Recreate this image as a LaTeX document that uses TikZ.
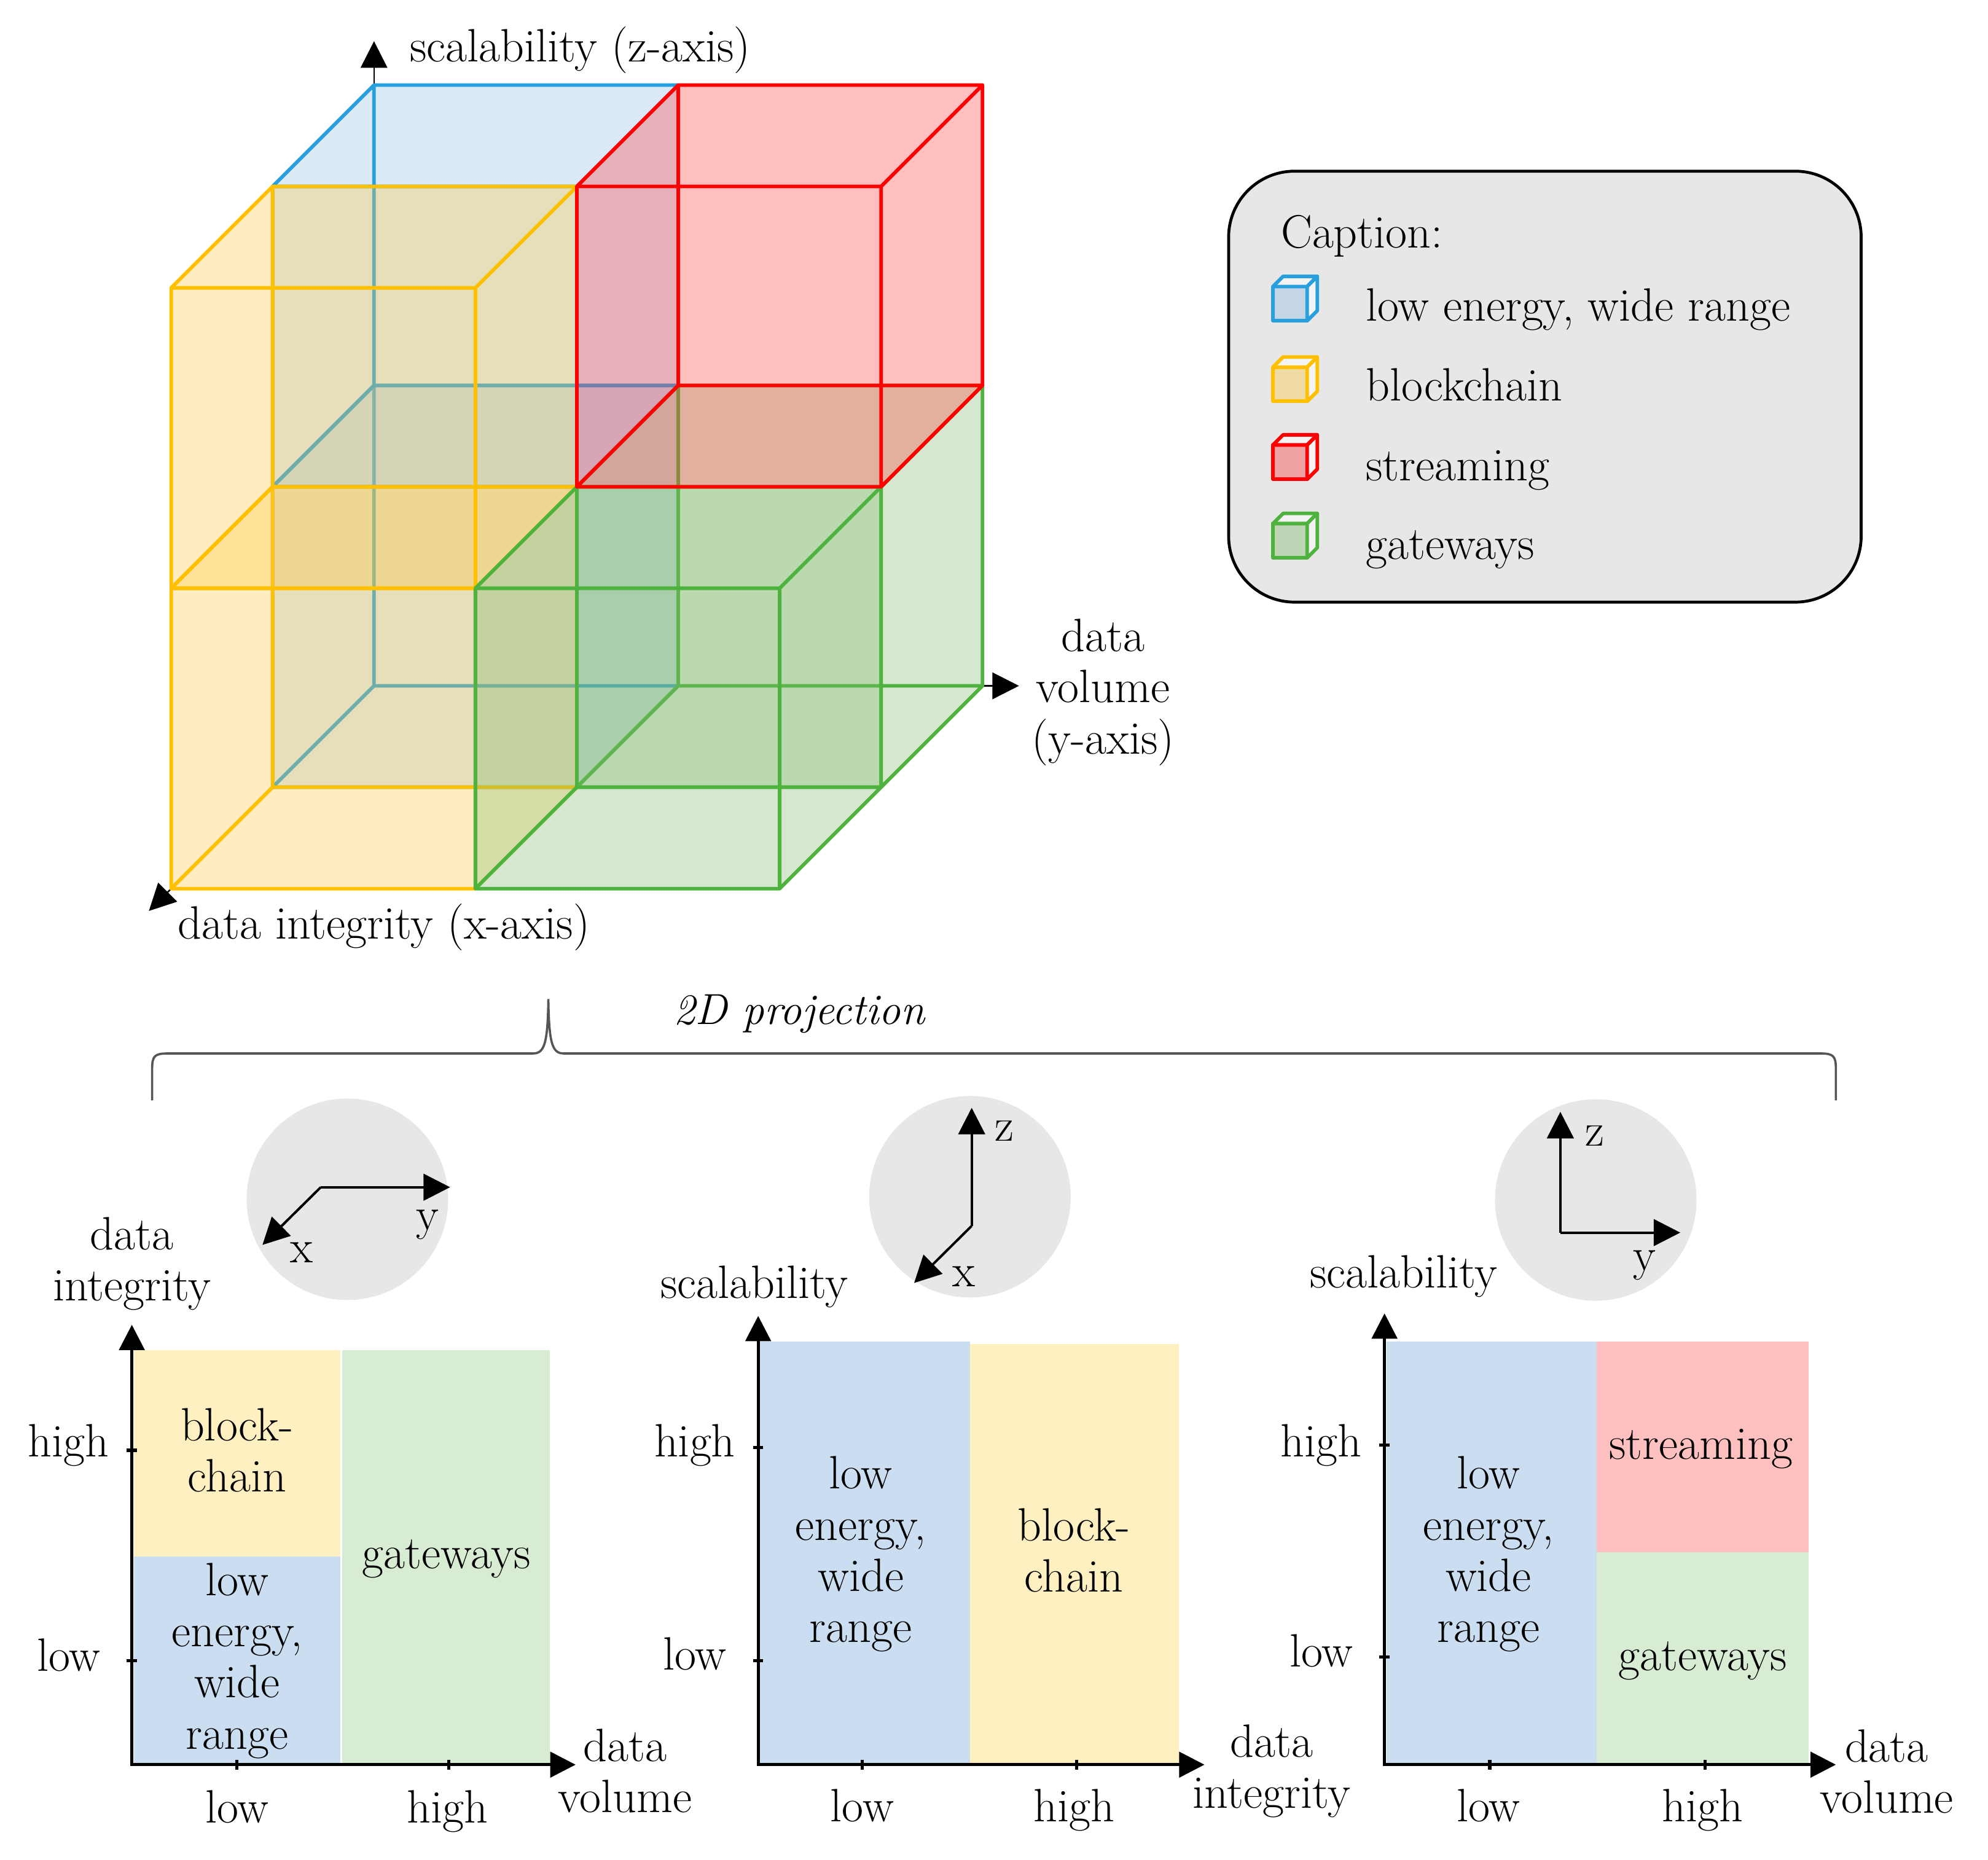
\documentclass[tikz,border=0pt]{standalone}
\usepackage{amsmath}
\usepackage{tikz}
\usetikzlibrary{arrows.meta}

\definecolor{lewredge}{RGB}{41,160,222}
\definecolor{lewrfill}{RGB}{144,189,228}
\definecolor{chainedge}{RGB}{255,192,0}
\definecolor{chainfill}{RGB}{255,201,66}
\definecolor{streamedge}{RGB}{255,0,0}
\definecolor{streamfill}{RGB}{255,60,60}
\definecolor{gateedge}{RGB}{78,178,62}
\definecolor{gatefill}{RGB}{129,186,108}
\definecolor{lewrflat}{RGB}{202,221,241}
\definecolor{chainflat}{RGB}{255,240,193}
\definecolor{streamflat}{RGB}{255,192,192}
\definecolor{gateflat}{RGB}{216,235,211}
\definecolor{capgray}{RGB}{231,231,231}
\definecolor{bracegray}{RGB}{85,85,85}

\tikzstyle{every node}=[inner sep=0pt,font=\fontsize{21}{23}\selectfont]
\tikzstyle{lbl}=[align=center]
\tikzstyle{axis3d}=[line width=0.7pt,-{Triangle[length=0.42cm,width=0.42cm]}]
\tikzstyle{axis2d}=[line width=1.4pt,{Triangle[length=0.4cm,width=0.4cm]}-{Triangle[length=0.4cm,width=0.4cm]}]
\tikzstyle{miniaxis}=[line width=1.1pt,-{Triangle[length=0.42cm,width=0.42cm]}]
\tikzstyle{tickmark}=[line width=1.4pt]
\tikzstyle{disc}=[circle,fill=capgray,minimum size=3.18cm]

% one half-size cell of the big cube, lower corner (#1,#2,#3)
\newcommand{\gridcube}[4]{%
  \fill[#4fill,fill opacity=0.33] (#1+.5,#2,#3)--(#1+.5,#2+.5,#3)--(#1,#2+.5,#3)--(#1,#2+.5,#3+.5)--(#1,#2,#3+.5)--(#1+.5,#2,#3+.5)--cycle;
  \draw[#4edge,line width=1.6pt,line join=round] (#1+.5,#2,#3)--(#1+.5,#2+.5,#3)--(#1+.5,#2+.5,#3+.5)--(#1+.5,#2,#3+.5)--cycle
    (#1,#2,#3)--(#1,#2+.5,#3)--(#1,#2+.5,#3+.5)--(#1,#2,#3+.5)--cycle
    (#1,#2,#3)--(#1+.5,#2,#3) (#1,#2+.5,#3)--(#1+.5,#2+.5,#3)
    (#1,#2+.5,#3+.5)--(#1+.5,#2+.5,#3+.5) (#1,#2,#3+.5)--(#1+.5,#2,#3+.5);
}
% small cube of the caption, front face lower left at (#1,#2)
\newcommand{\legendcube}[3]{%
  \filldraw[#3edge,fill=#3fill!40!capgray,line width=1.6pt,line join=round] (#1,#2) rectangle (#1+27,#2-27);
  \filldraw[#3edge,fill=white!50!capgray,line width=1.6pt,line join=round] (#1,#2-27)--(#1+8,#2-35)--(#1+35,#2-35)--(#1+27,#2-27)--cycle;
  \filldraw[#3edge,fill=white!50!capgray,line width=1.6pt,line join=round] (#1+27,#2)--(#1+35,#2-8)--(#1+35,#2-35)--(#1+27,#2-27)--cycle;
}

\begin{document}
\begin{tikzpicture}[x=0.02cm,y=-0.02cm]
\useasboundingbox (0,0) rectangle (1568,1467);

% 3D cube
\begin{scope}[shift={(295,541)},x={(-3.2cm,-3.2cm)},y={(9.6cm,0cm)},z={(0cm,9.48cm)}]
\coordinate (O) at (0,0,0);
\coordinate (xtip) at (1.11,0,0);
\coordinate (ytip) at (0,1.06,0);
\coordinate (ztip) at (0,0,1.073);
\draw[axis3d] (O)--(xtip);
\draw[axis3d] (O)--(ytip);
\draw[axis3d] (O)--(ztip);
\gridcube{0}{0}{0}{lewr}
\gridcube{0}{0}{.5}{lewr}
\gridcube{.5}{0}{0}{chain}
\gridcube{.5}{0}{.5}{chain}
\gridcube{0}{.5}{0}{gate}
\gridcube{.5}{.5}{0}{gate}
\gridcube{0}{.5}{.5}{stream}
\end{scope}
\node[anchor=base west] (zlabel) at (323,48.7) {scalability (z-axis)};
\node[lbl] (ylabel) at (870,546) {data\\volume\\(y-axis)};
\node[anchor=base west] (xlabel) at (140,740.5) {data integrity (x-axis)};

% caption
\node[draw,line width=1.3pt,rounded corners=1.04cm,fill=capgray,minimum width=9.98cm,minimum height=6.8cm] (capbox) at (1218.5,305) {};
\node[anchor=base west] (caphead) at (1010,195.4) {Caption:};
\legendcube{1004}{253}{lewr}
\node[anchor=base west] (cap-lewr) at (1077,253) {low energy, wide range};
\legendcube{1004}{316.6}{chain}
\node[anchor=base west] (cap-chain) at (1077,316) {blockchain};
\legendcube{1004}{378}{stream}
\node[anchor=base west] (cap-stream) at (1077,379) {streaming};
\legendcube{1004}{440}{gate}
\node[anchor=base west] (cap-gate) at (1077,441) {gateways};

% brace
\draw[bracegray,line width=1pt] (120,868)--(120,843) .. controls (120,833) and (122,831) .. (132,831)--(420,831) .. controls (429,831) and (432,825) .. (432.5,788) .. controls (433,825) and (436,831) .. (445,831)--(1436,831) .. controls (1446,831) and (1448,833) .. (1448,843)--(1448,868);
\node[anchor=base west,font=\fontsize{19.5}{23}\selectfont\itshape] (proj) at (531,808) {2D projection};

% projection x-y
\node[disc] (view1) at (274,946) {};
\coordinate (m1) at (253,936.5);
\coordinate (m1y) at (355,936.5);
\coordinate (m1x) at (207,982);
\draw[miniaxis] (m1)--(m1y);
\draw[miniaxis] (m1)--(m1x);
\node (m1ylab) at (337,966) {y};
\node (m1xlab) at (238,988) {x};

\fill[chainflat] (105.5,1065) rectangle (268.5,1228);
\fill[lewrflat] (105.5,1228) rectangle (268.5,1392);
\fill[gateflat] (270,1065) rectangle (433.5,1392);
\coordinate (o1) at (104,1392);
\coordinate (v1) at (104,1045);
\coordinate (h1) at (454,1392);
\draw[axis2d] (v1)--(o1)--(h1);
\foreach \t in {1144,1310} \draw[tickmark] (100,\t)--(108,\t);
\foreach \t in {187,354} \draw[tickmark] (\t,1388)--(\t,1396);
\node[lbl] (ax1v) at (104,997) {data\\integrity};
\node[lbl] (ax1h) at (493,1397) {data\\volume};
\node[anchor=base] (hi1) at (54,1149) {high};
\node[anchor=base] (lo1) at (54,1318) {low};
\node[anchor=base] (lo1x) at (187,1438) {low};
\node[anchor=base] (hi1x) at (353,1438) {high};
\node[lbl] (r1chain) at (187,1144) {block-\\chain};
\node[lbl] (r1lewr) at (187,1310) {low\\energy,\\wide\\range};
\node[lbl] (r1gate) at (352,1229.5) {gateways};

% projection x-z
\node[disc] (view2) at (765,944) {};
\coordinate (m2) at (766.4,967);
\coordinate (m2z) at (766.4,873.8);
\coordinate (m2x) at (721,1012);
\draw[miniaxis] (m2)--(m2z);
\draw[miniaxis] (m2)--(m2x);
\node (m2zlab) at (792,892) {z};
\node (m2xlab) at (760,1007) {x};

\fill[lewrflat] (599.5,1058) rectangle (765,1392);
\fill[chainflat] (765,1060) rectangle (930,1392);
\coordinate (o2) at (598,1392);
\coordinate (v2) at (598,1038);
\coordinate (h2) at (950,1392);
\draw[axis2d] (v2)--(o2)--(h2);
\foreach \t in {1142,1310} \draw[tickmark] (594,\t)--(602,\t);
\foreach \t in {680,849} \draw[tickmark] (\t,1388)--(\t,1396);
\node (ax2v) at (595,1015) {scalability};
\node[lbl] (ax2h) at (1003,1397) {data\\integrity};
\node[anchor=base] (hi2) at (548,1149) {high};
\node[anchor=base] (lo2) at (548,1317) {low};
\node[anchor=base] (lo2x) at (680,1437) {low};
\node[anchor=base] (hi2x) at (847,1437) {high};
\node[lbl] (r2lewr) at (679,1226) {low\\energy,\\wide\\range};
\node[lbl] (r2chain) at (847,1223) {block-\\chain};

% projection y-z
\node[disc] (view3) at (1258.6,946.6) {};
\coordinate (m3) at (1230.7,972.3);
\coordinate (m3z) at (1230.7,877);
\coordinate (m3y) at (1325.3,972.3);
\draw[miniaxis] (m3)--(m3z);
\draw[miniaxis] (m3)--(m3y);
\node (m3zlab) at (1258,896) {z};
\node (m3ylab) at (1297,998) {y};

\fill[lewrflat] (1093.5,1058) rectangle (1259.5,1392);
\fill[streamflat] (1259.5,1058) rectangle (1426.5,1224.5);
\fill[gateflat] (1259.5,1224.5) rectangle (1426.5,1392);
\coordinate (o3) at (1092,1392);
\coordinate (v3) at (1092,1036);
\coordinate (h3) at (1448,1392);
\draw[axis2d] (v3)--(o3)--(h3);
\foreach \t in {1140,1307} \draw[tickmark] (1088,\t)--(1096,\t);
\foreach \t in {1175,1345} \draw[tickmark] (\t,1388)--(\t,1396);
\node (ax3v) at (1107,1007) {scalability};
\node[lbl] (ax3h) at (1488,1397.5) {data\\volume};
\node[anchor=base] (hi3) at (1042,1149) {high};
\node[anchor=base] (lo3) at (1042,1315) {low};
\node[anchor=base] (lo3x) at (1174,1437) {low};
\node[anchor=base] (hi3x) at (1343,1437) {high};
\node[lbl] (r3lewr) at (1174,1226) {low\\energy,\\wide\\range};
\node[lbl] (r3stream) at (1341.5,1143) {streaming};
\node[lbl] (r3gate) at (1343,1310) {gateways};
\end{tikzpicture}
\end{document}
